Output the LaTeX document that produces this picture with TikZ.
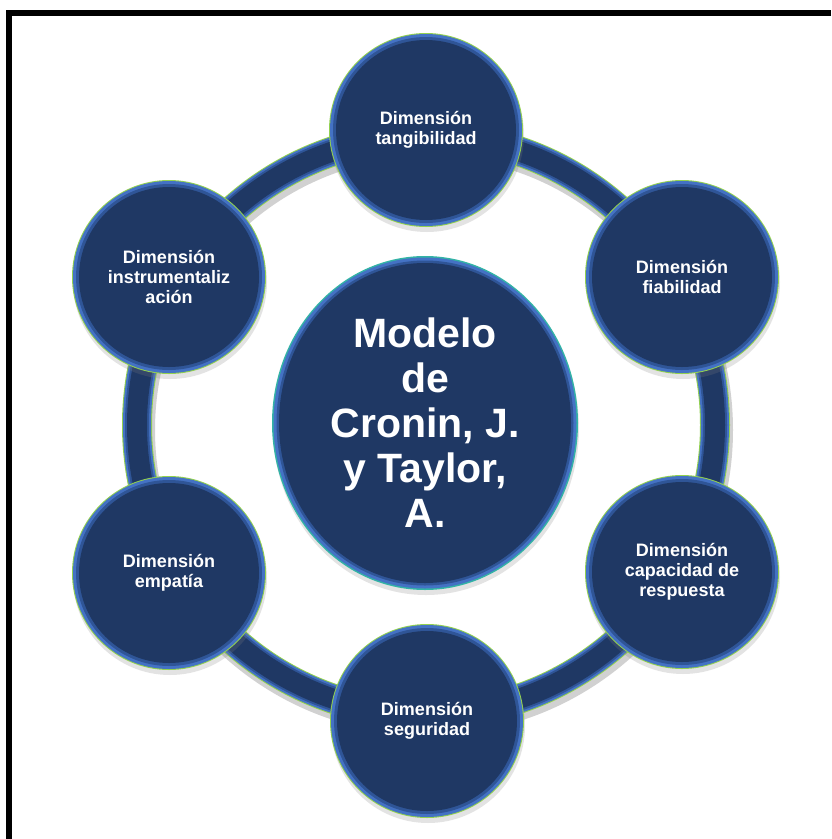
\documentclass[tikz,border=0pt]{standalone}
\usepackage{fontspec}
\setmainfont{Liberation Sans}
\usetikzlibrary{shapes.geometric,shadows}
\definecolor{navy}{HTML}{1F3864}
\definecolor{ringblue}{HTML}{4472C4}
\definecolor{midblue}{HTML}{2F5597}
\definecolor{ringgreen}{HTML}{92D050}
\definecolor{teal}{HTML}{33B3A6}
\tikzset{
  dimnode/.style={circle, minimum size=194pt, inner sep=0pt, fill=ringgreen,
    text=white, align=center, font=\bfseries\fontsize{18}{20}\selectfont,
    drop shadow={shadow xshift=1pt, shadow yshift=-5pt, opacity=0.22},
    path picture={
      \fill[ringblue] (path picture bounding box.center) circle[radius=96pt];
      \fill[midblue] (path picture bounding box.center) circle[radius=93pt];
      \fill[navy] (path picture bounding box.center) circle[radius=90pt];
    }},
  mainnode/.style={ellipse, minimum width=306pt, minimum height=334pt, inner sep=0pt,
    fill=teal, text=white, align=center, font=\bfseries\fontsize{41}{45}\selectfont,
    drop shadow={shadow xshift=1pt, shadow yshift=-5pt, opacity=0.22},
    path picture={
      \fill[ringblue] (path picture bounding box.center) ellipse[x radius=151.5pt, y radius=165.5pt];
      \fill[midblue] (path picture bounding box.center) ellipse[x radius=148.5pt, y radius=162.5pt];
      \fill[navy] (path picture bounding box.center) ellipse[x radius=146pt, y radius=160pt];
    }},
  frameline/.style={line width=6pt, line join=miter, black}
}
\begin{document}
\begin{tikzpicture}[x=1pt,y=-1pt]
\useasboundingbox (0,0) rectangle (831,839);
\fill[white] (0,0) rectangle (831,839);
\draw[frameline] (831,13) -- (9,13) -- (9,839);
\coordinate (c) at (426,425);
% ring
\draw[black, opacity=0.18, line width=32pt] ([shift={(2,5)}]c) circle[radius=289pt];
\draw[ringgreen, line width=30pt] (c) circle[radius=289pt];
\draw[ringblue, line width=28pt] (c) circle[radius=289pt];
\draw[midblue, line width=24pt] (c) circle[radius=289pt];
\draw[navy, line width=20pt] (c) circle[radius=289pt];
% outer nodes
\node[dimnode] (tang) at (426,130) {Dimensión\\tangibilidad};
\node[dimnode] (fiab) at (682,277) {Dimensión\\fiabilidad};
\node[dimnode] (resp) at (682,572) {Dimensión\\capacidad de\\respuesta};
\node[dimnode] (segu) at (427,721) {Dimensión\\seguridad};
\node[dimnode] (empa) at (169,573) {Dimensión\\empatía};
\node[dimnode] (inst) at (169,277) {Dimensión\\instrumentaliz\\ación};
% centre
\node[mainnode] (main) at (425,423) {Modelo\\de\\Cronin, J.\\y Taylor,\\A.};
\end{tikzpicture}
\end{document}
